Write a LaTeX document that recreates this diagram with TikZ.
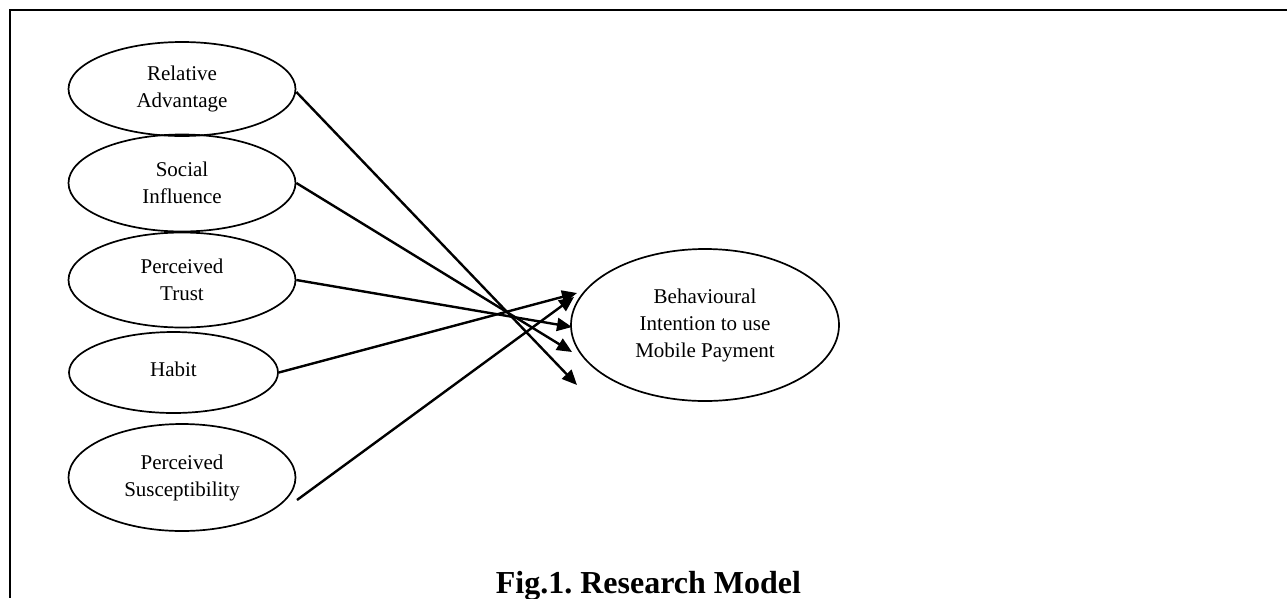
\documentclass[tikz,border=0pt]{standalone}
\usepackage{fontspec}
\setmainfont{Liberation Serif}
\usetikzlibrary{arrows.meta,shapes.geometric}
\begin{document}
\frenchspacing
\begin{tikzpicture}[x=1pt,y=-1pt,
  construct/.style={draw, ellipse, line width=1.7pt, inner sep=0pt, align=center,
    font=\fontsize{21}{27}\selectfont},
  causal/.style={line width=2.4pt, -{Triangle[length=15pt,width=13pt]}},
  frameline/.style={line width=2.4pt}]
\useasboundingbox (0,0) rectangle (1287,598);
\coordinate (ftr) at (1287,10);
\coordinate (ftl) at (10,10);
\coordinate (fbl) at (10,598);
\draw[frameline] (ftr) -- (ftl) -- (fbl);

\node[construct, minimum width=227pt, minimum height=94pt] (ra) at (182,89) {Relative\\Advantage};
\node[construct, minimum width=227pt, minimum height=97pt] (si) at (182,183) {Social\\Influence};
\node[construct, minimum width=227pt, minimum height=95pt] (pt) at (182,280) {Perceived\\Trust};
\node[construct, minimum width=209pt, minimum height=81pt] (hb) at (173.5,372.5) {\raisebox{7pt}{Habit}};
\node[construct, minimum width=227pt, minimum height=107pt] (ps) at (182,477.5) {Perceived\\Susceptibility};
\node[construct, minimum width=268pt, minimum height=152pt] (bi) at (705,325) {Behavioural\\Intention to use\\Mobile Payment};

\coordinate (psout) at (297,500);
\coordinate (t1) at (577,385);
\coordinate (t2) at (572,352);
\coordinate (t3) at (572,327);
\coordinate (t4) at (577,293);
\coordinate (t5) at (574,297);

\draw[causal] (ra.east) ++(0,3) -- (t1);
\draw[causal] (si.east) -- (t2);
\draw[causal] (pt.east) -- (t3);
\draw[causal] (hb.east) -- (t4);
\draw[causal] (psout) -- (t5);

\node[font=\fontsize{32}{36}\bfseries\selectfont, anchor=base] (title) at (648.5,593) {Fig.1. Research Model};
\end{tikzpicture}
\end{document}
